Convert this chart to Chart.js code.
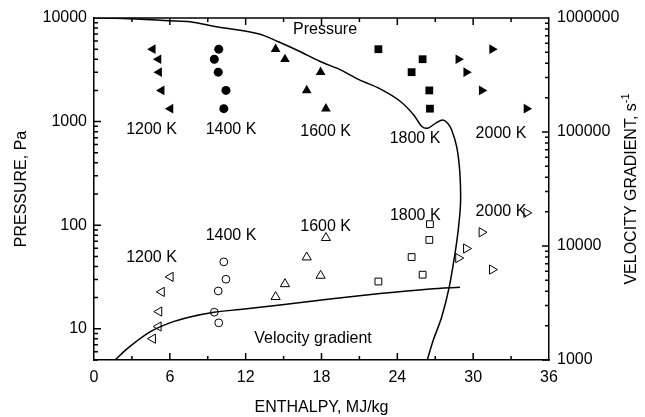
<!DOCTYPE html>
<html>
<head>
<meta charset="utf-8">
<script src="https://cdn.jsdelivr.net/npm/chart.js@4.4.0/dist/chart.umd.min.js"></script>
<style>
    body { margin: 0; background: #fff; }
    #caixa { width: 645px; height: 417px; }
</style>
</head>
<body>
<div id="caixa"><canvas id="grafico"></canvas></div>
<script>
// pressure levels of the filled markers (left axis)
const pressureLevels = [5000, 4000, 3000, 2000, 1333]

// enthalpy of each point, same order as pressureLevels
const enthalpy1200 = [4.65, 5.1, 5.15, 5.35, 6.05]
const enthalpy1400 = [9.87, 9.52, 9.83, 10.44, 10.27]
const enthalpy1600 = [14.37, 15.11, 17.93, 16.83, 18.35]
const enthalpy1800 = [22.5, 26.0, 25.13, 26.53, 26.58]
const enthalpy2000 = [31.5, 28.83, 29.45, 30.68, 34.22]

// velocity gradient of the open markers (right axis)
const gradient1200 = [1538, 1967, 2660, 3960, 5360]
const gradient1400 = [2118, 2625, 4030, 5110, 7260]
const gradient1600 = [3580, 4640, 5500, 7960, 11780]
const gradient1800 = [4880, 5600, 8000, 11300, 15540]
const gradient2000 = [6210, 7840, 9500, 13190, 19530]

// pressure curve
const pressureCurveH = [0, 2.3, 6.0, 7.6, 9.7, 13.0, 14.6, 16.2, 17.9, 19.5, 21.0, 22.6, 24.2, 25.3, 25.9, 26.4, 27.1, 27.6, 28.0, 28.3, 28.7, 28.95, 29.0, 28.82, 28.56, 28.11, 27.51, 26.84, 26.37]
const pressureCurveP = [10000, 9900, 9420, 9210, 8240, 7050, 5900, 4800, 3800, 3160, 2530, 2080, 1580, 1160, 908, 863, 978, 1035, 960, 831, 569, 317, 163, 90, 53, 25.4, 13, 7.74, 5]

// velocity gradient curve
const gradientCurveH = [1.66, 2.75, 4.43, 6.01, 7.59, 9.5, 11.55, 14.72, 18.67, 22.63, 26.58, 28.96]
const gradientCurveG = [1000, 1290, 1765, 2118, 2383, 2625, 2773, 3035, 3428, 3828, 4198, 4350]

const yTicks = [10, 100, 1000, 10000]
const y2Ticks = [1000, 10000, 100000, 1000000]

// text notes: text, enthalpy, pressure
const notes = [
    ['Pressure', 18.28, 7700],
    ['Velocity gradient', 17.33, 8.1],
    ['1200 K', 4.55, 832],
    ['1400 K', 10.84, 832],
    ['1600 K', 18.33, 800],
    ['1800 K', 25.4, 691],
    ['2000 K', 32.2, 772],
    ['1200 K', 4.55, 48.8],
    ['1400 K', 10.84, 80.2],
    ['1600 K', 18.33, 98],
    ['1800 K', 25.42, 125],
    ['2000 K', 32.2, 135]
]

const fonte = "'Liberation Sans', Arial, sans-serif"
Chart.defaults.font.family = fonte
Chart.defaults.font.size = 16
Chart.defaults.color = '#000'

function pares(xs, ys) {
    return xs.map((x, i) => ({ x: x, y: ys[i] }))
}

function serie(xs, ys, eixo, estilo, rot, raio, cheio) {
    return {
        type: 'scatter',
        data: pares(xs, ys),
        yAxisID: eixo,
        showLine: false,
        pointStyle: estilo,
        pointRotation: rot,
        pointRadius: raio,
        pointBackgroundColor: cheio ? '#000' : 'rgba(0,0,0,0)',
        pointBorderColor: '#000',
        pointBorderWidth: cheio ? 0 : 1
    }
}

function curva(xs, ys, eixo) {
    return {
        type: 'scatter',
        data: pares(xs, ys),
        yAxisID: eixo,
        showLine: true,
        tension: 0.3,
        pointRadius: 0,
        borderColor: '#000',
        borderWidth: 1.5
    }
}

function marcasLog(ctx, escala, de, ate, xBorda, sentido) {
    for (let base = 1; base < ate; base *= 10) {
        for (let k = 1; k <= 9; k++) {
            const v = base * k
            if (v < de || v > ate) continue
            const len = k == 1 ? 7 : 4
            const py = escala.getPixelForValue(v)
            ctx.moveTo(xBorda, py)
            ctx.lineTo(xBorda + sentido * len, py)
        }
    }
}

const marcas = {
    id: 'marcas',
    afterDraw(chart) {
        const ctx = chart.ctx
        const a = chart.chartArea
        const x = chart.scales.x
        const y = chart.scales.y
        const y2 = chart.scales.y2

        ctx.save()
        ctx.strokeStyle = '#000'
        ctx.lineWidth = 1.5
        ctx.beginPath()
        ctx.moveTo(a.left, a.top)
        ctx.lineTo(a.right, a.top)
        for (let v = 3; v < 36; v += 3) {
            const len = v % 6 == 0 ? 7 : 4
            const px = x.getPixelForValue(v)
            ctx.moveTo(px, a.bottom)
            ctx.lineTo(px, a.bottom - len)
            ctx.moveTo(px, a.top)
            ctx.lineTo(px, a.top + len)
        }
        marcasLog(ctx, y, 5, 10000, a.left, 1)
        marcasLog(ctx, y2, 1000, 1000000, a.right, -1)
        ctx.stroke()

        ctx.fillStyle = '#000'
        ctx.font = '16px ' + fonte
        ctx.textAlign = 'center'
        ctx.textBaseline = 'middle'
        notes.forEach(n => {
            ctx.fillText(n[0], x.getPixelForValue(n[1]), y.getPixelForValue(n[2]))
        })

        // right axis title, read bottom to top, with superscript
        const principal = 'VELOCITY GRADIENT, s'
        const sobrescrito = '-1'
        ctx.translate(632, (a.top + a.bottom) / 2)
        ctx.rotate(-Math.PI / 2)
        const w1 = ctx.measureText(principal).width
        ctx.font = '11px ' + fonte
        const w2 = ctx.measureText(sobrescrito).width
        const inicio = -(w1 + w2) / 2
        ctx.textAlign = 'left'
        ctx.fillText(sobrescrito, inicio + w1, -6)
        ctx.font = '16px ' + fonte
        ctx.fillText(principal, inicio, 0)
        ctx.restore()
    }
}

const ctx = document.getElementById('grafico').getContext('2d')

const grafico = new Chart(ctx, {
    type: 'scatter',
    data: {
        datasets: [
            curva(pressureCurveH, pressureCurveP, 'y'),
            curva(gradientCurveH, gradientCurveG, 'y2'),
            serie(enthalpy1200, pressureLevels, 'y', 'triangle', -90, 5.6, true),
            serie(enthalpy1400, pressureLevels, 'y', 'circle', 0, 4.5, true),
            serie(enthalpy1600, pressureLevels, 'y', 'triangle', 0, 5.6, true),
            serie(enthalpy1800, pressureLevels, 'y', 'rect', 0, 5.5, true),
            serie(enthalpy2000, pressureLevels, 'y', 'triangle', 90, 5.6, true),
            serie(enthalpy1200, gradient1200, 'y2', 'triangle', -90, 5.3, false),
            serie(enthalpy1400, gradient1400, 'y2', 'circle', 0, 3.9, false),
            serie(enthalpy1600, gradient1600, 'y2', 'triangle', 0, 5.3, false),
            serie(enthalpy1800, gradient1800, 'y2', 'rect', 0, 4.8, false),
            serie(enthalpy2000, gradient2000, 'y2', 'triangle', 90, 5.3, false)
        ]
    },
    options: {
        responsive: true,
        maintainAspectRatio: false,
        animation: false,
        events: [],
        layout: { padding: { top: 18, left: 0, right: 0, bottom: 0 } },
        plugins: { legend: { display: false }, tooltip: { enabled: false } },
        scales: {
            x: {
                type: 'linear',
                position: 'bottom',
                min: 0,
                max: 36,
                ticks: { stepSize: 6, padding: 8, maxRotation: 0 },
                grid: { display: false, drawTicks: false },
                border: { color: '#000', width: 1.5 },
                title: { display: true, text: 'ENTHALPY, MJ/kg', padding: { top: 0, bottom: 0 } },
                afterFit: s => { s.height = 57 }
            },
            y: {
                type: 'logarithmic',
                position: 'left',
                min: 5,
                max: 10000,
                afterBuildTicks: s => { s.ticks = yTicks.map(v => ({ value: v })) },
                ticks: { callback: v => String(v), padding: 7 },
                grid: { display: false, drawTicks: false },
                border: { color: '#000', width: 1.5 },
                title: { display: true, text: 'PRESSURE, Pa', padding: { top: 12, bottom: 0 } },
                afterFit: s => { s.width = 94 }
            },
            y2: {
                type: 'logarithmic',
                position: 'right',
                min: 1000,
                max: 1000000,
                afterBuildTicks: s => { s.ticks = y2Ticks.map(v => ({ value: v })) },
                ticks: { callback: v => String(v), padding: 8 },
                grid: { display: false, drawTicks: false },
                border: { color: '#000', width: 1.5 },
                afterFit: s => { s.width = 96 }
            }
        }
    },
    plugins: [marcas]
})
</script>
</body>
</html>
